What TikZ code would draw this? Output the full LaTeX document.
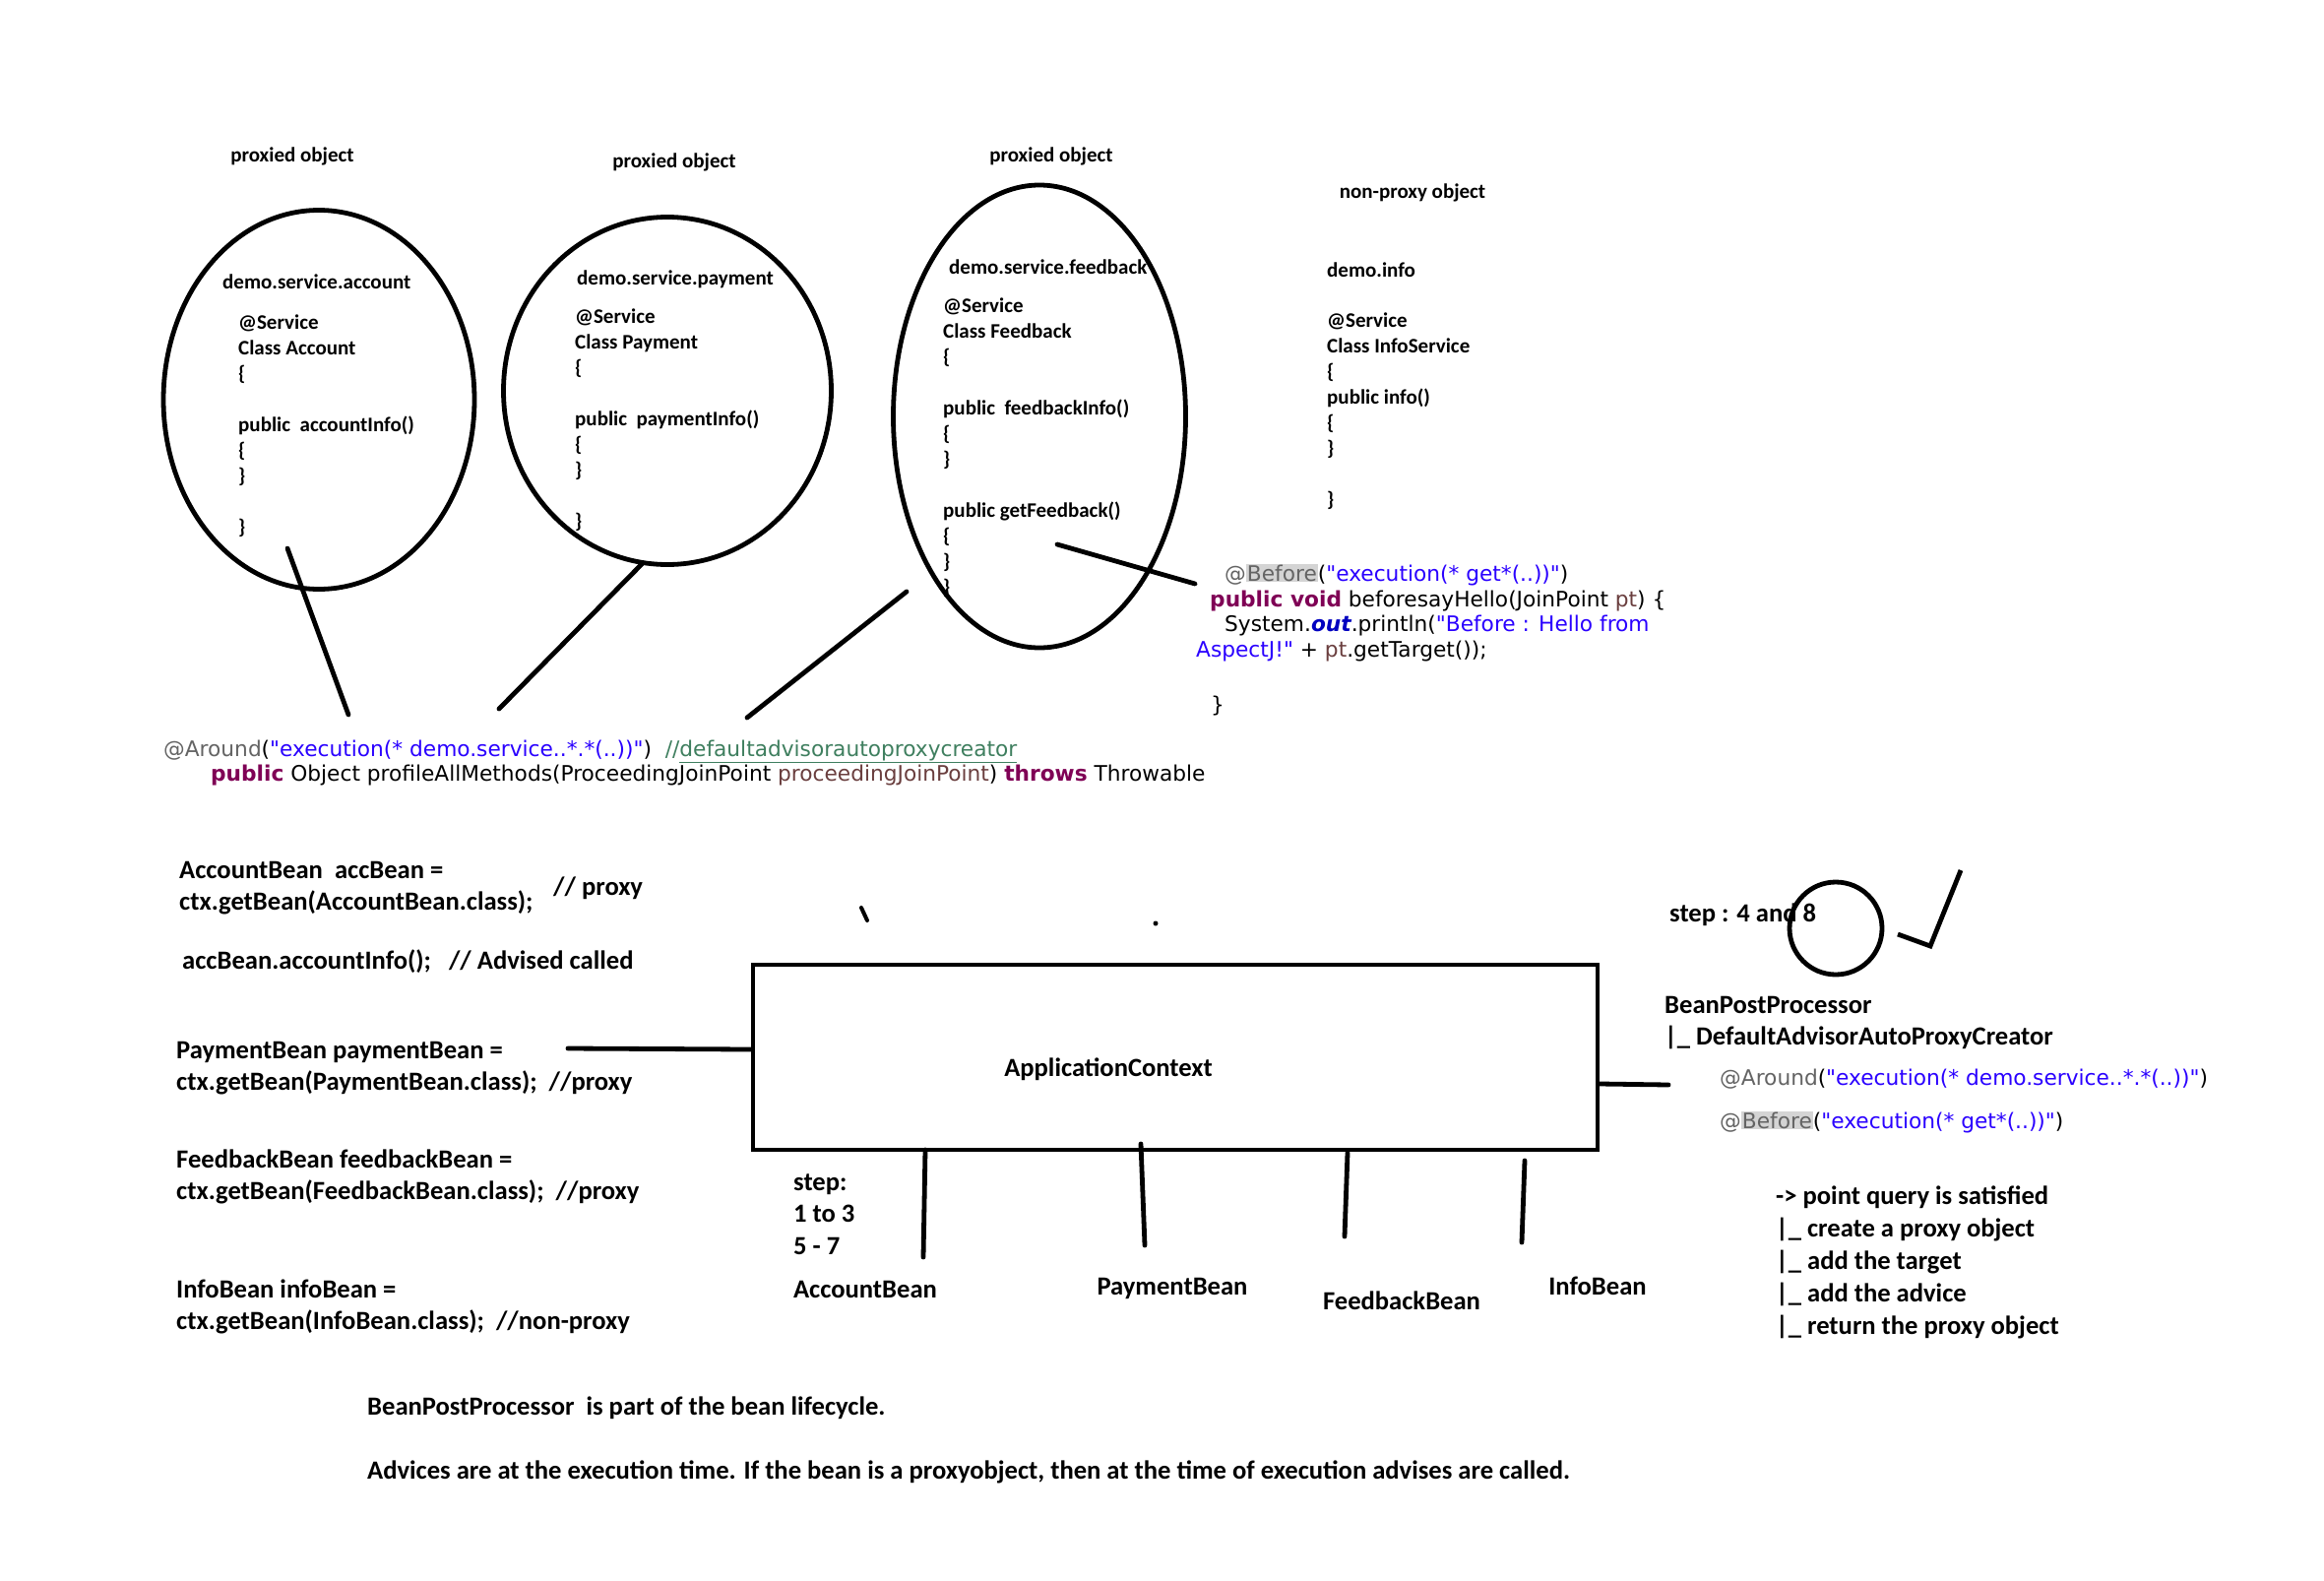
\documentclass[tikz,border=0pt]{standalone}
\usepackage{fontspec}
\setmainfont{Carlito}
\newfontfamily\codefont{DejaVu Sans}
\usetikzlibrary{shapes.geometric}
\definecolor{annc}{HTML}{646464}
\definecolor{strc}{HTML}{2A00FF}
\definecolor{kwc}{HTML}{7F0055}
\definecolor{cmtc}{HTML}{3F7F5F}
\definecolor{parc}{HTML}{6A3E3E}
\definecolor{fldc}{HTML}{0000C0}
\definecolor{hlc}{HTML}{D4D4D4}
\newcommand\hlbx[1]{{\setlength{\fboxsep}{1pt}\colorbox{hlc}{#1}}}
\newcommand\kwd[1]{{\bfseries\color{kwc}#1}}
\newcommand\strg[1]{{\color{strc}#1}}
\newcommand\annt[1]{{\color{annc}#1}}
\newcommand\parm[1]{{\color{parc}#1}}
\begin{document}
\begin{tikzpicture}[x=1pt,y=-1pt,
  lbl/.style={font=\fontsize{26.6}{32.5}\selectfont\bfseries, align=left, anchor=base west, inner sep=0pt, yshift=-3pt},
  lblc/.style={font=\fontsize{26.6}{32.5}\selectfont\bfseries, anchor=base, inner sep=0pt, yshift=-3pt},
  small/.style={font=\fontsize{21}{26}\selectfont\bfseries, align=left, anchor=base west, inner sep=0pt, yshift=-1.5pt},
  smallc/.style={font=\fontsize{21}{26}\selectfont\bfseries, anchor=base, inner sep=0pt, yshift=-1.5pt},
  code/.style={font=\codefont\fontsize{21.7}{25.6}\selectfont, anchor=base west, inner sep=0pt, yshift=-3pt},
  stroke/.style={line width=4.8pt, line cap=round},
  oval/.style={ellipse, draw, line width=4.8pt, inner sep=0pt}]
\useasboundingbox[fill=white] (0,0) rectangle (2361,1606);

% ---- ellipses (objects)
\node[oval, minimum width=316pt, minimum height=385pt] (e1) at (324,406) {};
\node[oval, minimum width=333pt, minimum height=353pt] (e2) at (678,397) {};
\node[oval, minimum width=297pt, minimum height=470pt] (e3) at (1056,423) {};

% ---- titles
\node[smallc] (t1) at (297,163) {proxied object};
\node[smallc] (t2) at (685,169) {proxied object};
\node[smallc] (t3) at (1068,163) {proxied object};
\node[smallc] (t4) at (1435,200) {non-proxy object};

% ---- class texts (anchor = baseline of the last line)
\node[small] (p1) at (226,292) {demo.service.account};
\node[small] (b1) at (242,541) {@Service\\Class Account\\\{\\[26pt]public\ \ accountInfo()\\\{\\\}\\[26pt]\}};
\node[small] (p2) at (586,288) {demo.service.payment};
\node[small] (b2) at (584,535) {@Service\\Class Payment\\\{\\[26pt]public\ \ paymentInfo()\\\{\\\}\\[26pt]\}};
\node[small] (p3) at (964,277) {demo.service.feedback};
\node[small] (b3) at (958,602) {@Service\\Class Feedback\\\{\\[26pt]public\ \ feedbackInfo()\\\{\\\}\\[26pt]public getFeedback()\\\{\\\}\\\}};
\node[small] (p4) at (1348,280) {demo.info};
\node[small] (b4) at (1348,513) {@Service\\Class InfoService\\\{\\public info()\\\{\\\}\\[26pt]\}};

% ---- around advice code
\node[code] (ar1) at (166,765) {\annt{@Around}(\strg{"execution(* demo.service..*.*(..))"})\ \ {\color{cmtc}//\underline{defaultadvisorautoproxycreator}}};
\node[code] (ar2) at (214,790) {\kwd{public} Object profileAllMethods(ProceedingJoinPoint \parm{proceedingJoinPoint}) \kwd{throws} Throwable};

% ---- before advice code
\node[code] (bf1) at (1244,587) {\annt{@\hlbx{Before}}(\strg{"execution(* get*(..))"})};
\node[code] (bf2) at (1229,613) {\kwd{public void} beforesayHello(JoinPoint \parm{pt}) \{};
\node[code] (bf3) at (1244,638) {System.{\bfseries\itshape\color{fldc}out}.println(\strg{"Before : Hello from}};
\node[code] (bf4) at (1215,664) {\strg{AspectJ!"} + \parm{pt}.getTarget());};
\node[code] (bf5) at (1230,720) {\}};

% ---- connectors from objects to advice
\coordinate (c1a) at (292,557); \coordinate (c1b) at (354,726);
\coordinate (c2a) at (653,572); \coordinate (c2b) at (507,720);
\coordinate (c3a) at (921,601); \coordinate (c3b) at (759,729);
\coordinate (c4a) at (1074,553); \coordinate (c4b) at (1214,593);
\draw[stroke] (c1a) -- (c1b);
\draw[stroke] (c2a) -- (c2b);
\draw[stroke] (c3a) -- (c3b);
\draw[stroke] (c4a) -- (c4b);

% ---- client code
\node[lbl] (acc) at (182,921.5) {AccountBean\ \ accBean =\\ctx.getBean(AccountBean.class);};
\node[lbl] (accp) at (562,906) {// proxy};
\node[lbl] (acci) at (185,981) {accBean.accountInfo();\ \ \ // Advised called};
\node[lbl] (pay) at (179,1104.5) {PaymentBean paymentBean =\\ctx.getBean(PaymentBean.class);\ \ //proxy};
\node[lbl] (fb) at (179,1215.5) {FeedbackBean feedbackBean =\\ctx.getBean(FeedbackBean.class);\ \ //proxy};
\node[lbl] (inf) at (179,1347.5) {InfoBean infoBean =\\ctx.getBean(InfoBean.class);\ \ //non-proxy};

% ---- stray marks
\coordinate (m1a) at (875,922); \coordinate (m1b) at (881,935);
\draw[line width=4pt, line cap=round] (m1a) -- (m1b);
\coordinate (m2) at (1174,938);
\fill (m2) circle (2.5pt);

% ---- application context
\node[draw, line width=4.8pt, minimum width=858pt, minimum height=188pt, inner sep=0pt] (ac) at (1194,1074) {};
\node[lblc] (acl) at (1126,1090) {ApplicationContext};
\coordinate (lin) at (577,1065);
\draw[stroke] (lin) -- ([yshift=8pt]ac.west);
\coordinate (rout) at (1695,1102);
\draw[stroke] ([yshift=-27pt]ac.east) -- (rout);

\coordinate (d1a) at (940,1168); \coordinate (d1b) at (938,1277);
\coordinate (d2a) at (1159,1162); \coordinate (d2b) at (1163,1265);
\coordinate (d3a) at (1369,1171); \coordinate (d3b) at (1366,1256);
\coordinate (d4a) at (1549,1179); \coordinate (d4b) at (1546,1262);
\draw[stroke] (d1a) -- (d1b);
\draw[stroke] (d2a) -- (d2b);
\draw[stroke] (d3a) -- (d3b);
\draw[stroke] (d4a) -- (d4b);

\node[lbl] (stp) at (806,1271) {step:\\1 to 3\\5 - 7};
\node[lblc] (ab) at (879,1315) {AccountBean};
\node[lblc] (pb) at (1191,1312) {PaymentBean};
\node[lblc] (fbb) at (1424,1327) {FeedbackBean};
\node[lblc] (ib) at (1623,1312) {InfoBean};

% ---- right side
\node[lbl] (s48) at (1696,933) {step : 4 and 8};
\node[circle, draw, line width=4.8pt, minimum size=94pt, inner sep=0pt] (ring) at (1865,943) {};
\coordinate (k1) at (1928,949); \coordinate (k2) at (1961,961); \coordinate (k3) at (1992,884);
\draw[line width=4.8pt, line join=miter] (k1) -- (k2) -- (k3);

\node[lbl] (bpp) at (1691,1058.5) {BeanPostProcessor\\|\_ DefaultAdvisorAutoProxyCreator};
\node[code] (rar) at (1747,1099) {\annt{@Around}(\strg{"execution(* demo.service..*.*(..))"})};
\node[code] (rbf) at (1747,1143) {\annt{@\hlbx{Before}}(\strg{"execution(* get*(..))"})};

\node[lbl, font=\fontsize{26.6}{32.8}\selectfont\bfseries] (lst) at (1804,1352) {-> point query is satisfied\\|\_ create a proxy object\\|\_ add the target\\|\_ add the advice\\|\_ return the proxy object};

% ---- notes
\node[lbl] (n1) at (373,1434) {BeanPostProcessor\ \ is part of the bean lifecycle.};
\node[lbl] (n2) at (373,1499) {Advices are at the execution time. If the bean is a proxyobject, then at the time of execution advises are called.};
\end{tikzpicture}
\end{document}
